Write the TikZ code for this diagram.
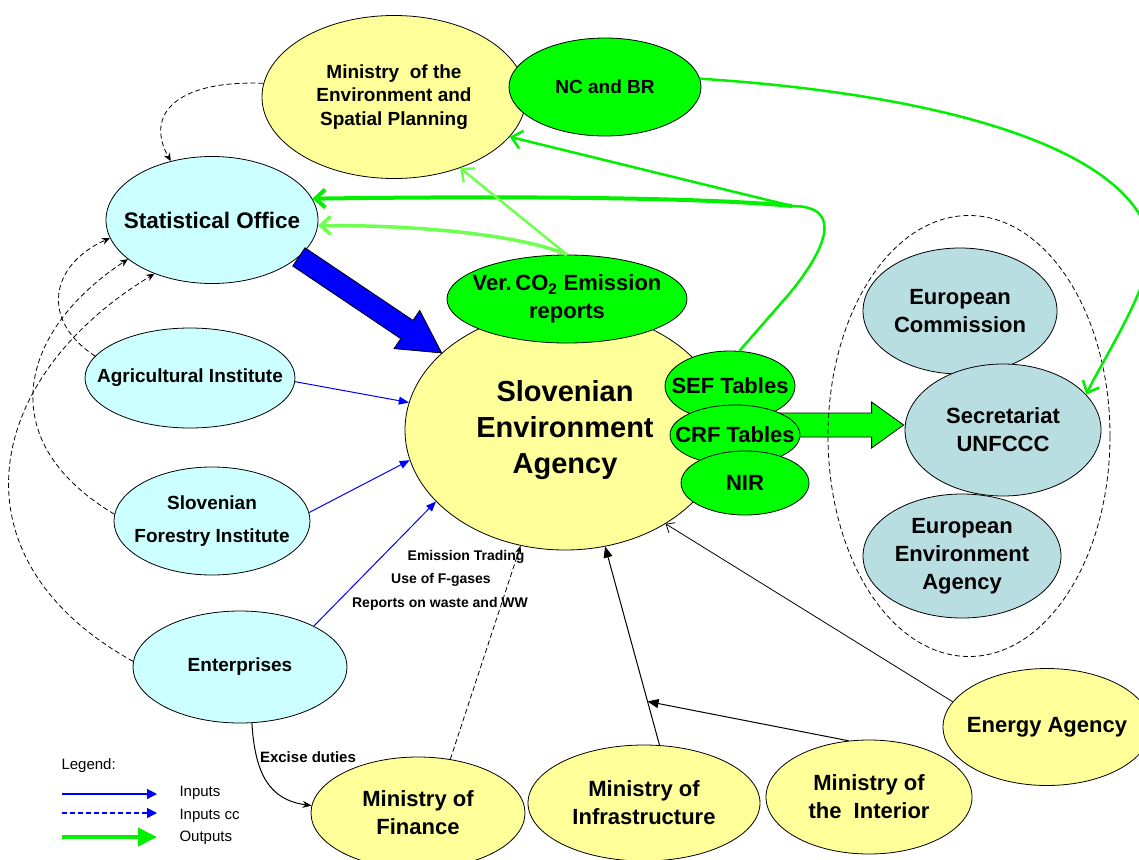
\documentclass[tikz,border=0pt]{standalone}
\usepackage{fontspec}
\setmainfont{Liberation Sans}
\usepackage{tikz}
\usetikzlibrary{shapes.geometric, arrows.meta, calc}
\pgfdeclarelayer{background}
\pgfsetlayers{background,main}
\definecolor{ministryyellow}{RGB}{255,255,153}
\definecolor{officecyan}{RGB}{204,255,255}
\definecolor{reportgreen}{RGB}{0,255,0}
\definecolor{eublue}{RGB}{185,222,226}
\definecolor{outgreen}{RGB}{0,240,0}
\definecolor{lightgreen}{RGB}{110,255,80}

\begin{document}
\begin{tikzpicture}[x=1pt, y=-1pt,
    blob/.style={ellipse, draw, line width=0.8pt, inner xsep=-20pt, inner ysep=-10pt, align=center},
    ministry/.style={blob, fill=ministryyellow},
    office/.style={blob, fill=officecyan},
    report/.style={blob, fill=reportgreen},
    eubody/.style={blob, fill=eublue},
    txtsmall/.style={font=\fontsize{19}{23.5}\selectfont\bfseries},
    txtbig/.style={font=\fontsize{22}{28}\selectfont\bfseries},
    lbl/.style={font=\fontsize{14}{17}\selectfont\bfseries},
    legendtxt/.style={font=\fontsize{15}{18}\selectfont, anchor=west},
    longdash/.style={dash pattern=on 5pt off 3pt},
    inarrow/.style={blue, line width=1pt, -{Triangle[length=10pt,width=8pt]}},
    ccarrow/.style={black, longdash, line width=0.8pt, -{Stealth[length=8pt,width=7pt]}},
    link/.style={black, line width=1pt, -{Triangle[length=11pt,width=9pt]}},
    outarrow/.style={outgreen, line width=2.5pt, -{Straight Barb[length=10pt,width=18pt]}},
    outlight/.style={lightgreen, line width=2.5pt, -{Straight Barb[length=10pt,width=18pt]}}
]
    \useasboundingbox (0,0) rectangle (1139,859);
    \clip (0,0) rectangle (1139,859);

    % left side
    \node[ministry, txtsmall, minimum width=264pt, minimum height=163pt] (mop) at (394,97) {Ministry\ \ of the\\Environment and\\Spatial Planning};
    \node[report, txtsmall, minimum width=192pt, minimum height=98pt] (ncbr) at (605,87) {NC and BR};
    \node[office, font=\fontsize{22.5}{27}\selectfont\bfseries, minimum width=212pt, minimum height=127pt] (stat) at (212,220) {Statistical Office};
    \node[office, txtsmall, minimum width=210pt, minimum height=100pt] (agr) at (190,378) {Agricultural Institute};
    \node[office, font=\fontsize{19}{33}\selectfont\bfseries, minimum width=196pt, minimum height=108pt] (forest) at (212,521) {Slovenian\\Forestry Institute};
    \node[office, txtsmall, minimum width=214pt, minimum height=112pt] (ent) at (240,667) {Enterprises};

    % agency and reports
    \node[ministry, font=\fontsize{29}{36}\selectfont\bfseries, minimum width=320pt, minimum height=240pt] (sea) at (565,430) {Slovenian\\Environment\\Agency};
    \node[report, txtbig, minimum width=240pt, minimum height=88pt] (co2) at (567,299) {Ver.\,CO\textsubscript{2} Emission\\reports};
    \node[report, txtbig, minimum width=130pt, minimum height=70pt] (sef) at (730,386) {SEF Tables};
    \node[report, txtbig, minimum width=130pt, minimum height=60pt] (crf) at (735,435) {CRF Tables};
    \node[report, txtbig, minimum width=128pt, minimum height=64pt] (nir) at (745,483) {NIR};

    % EU bodies
    \node[draw, longdash, ellipse, line width=0.8pt, minimum width=282pt, minimum height=441pt] (eu) at (969,436) {};
    \node[eubody, txtbig, minimum width=194pt, minimum height=126pt] (ec) at (960,311) {European\\Commission};
    \node[eubody, txtbig, minimum width=196pt, minimum height=132pt] (sec) at (1003,430) {Secretariat\\UNFCCC};
    \node[eubody, txtbig, minimum width=198pt, minimum height=124pt] (eea) at (962,556) {European\\Environment\\Agency};

    % bottom row
    \node[ministry, txtbig, minimum width=208pt, minimum height=117pt] (energy) at (1047,727) {Energy Agency};
    \node[ministry, txtbig, minimum width=206pt, minimum height=114pt] (interior) at (869,797) {Ministry of\\the\ \ Interior};
    \node[ministry, txtbig, minimum width=232pt, minimum height=116pt] (infra) at (644,803) {Ministry of\\Infrastructure};
    \node[ministry, txtbig, minimum width=214pt, minimum height=112pt] (finance) at (418,813) {Ministry of\\Finance};

    % labels
    \node[lbl] (trading) at (466,557) {Emission Trading};
    \node[lbl] (fgas) at (441,580) {Use of F-gases};
    \node[lbl] (waste) at (440,604) {Reports on waste and WW};
    \node[lbl, font=\fontsize{15}{18}\selectfont\bfseries] (excise) at (308,757) {Excise duties};

    % big arrows
    \coordinate (btail) at (stat.-23);
    \coordinate (btip) at (sea.148);
    \coordinate (bbase) at ($(btip)!42pt!(btail)$);
    \filldraw[fill=blue, draw=black, line width=0.8pt]
        ($(btail)!11pt!90:(btip)$) -- ($(bbase)!11pt!90:(btip)$) -- ($(bbase)!23pt!90:(btip)$) -- (btip)
        -- ($(bbase)!23pt!-90:(btip)$) -- ($(bbase)!11pt!-90:(btip)$) -- ($(btail)!11pt!-90:(btip)$) -- cycle;
    \begin{pgfonlayer}{background}
        \fill[white] (0,0) rectangle (1139,859);
        \coordinate (gtail) at ($(crf.center)+(25,-10)$);
        \coordinate (gtip) at ($(sec.west)+(-1,-5)$);
        \coordinate (gbase) at ($(gtip)!32pt!(gtail)$);
        \filldraw[fill=reportgreen, draw=black, line width=0.8pt]
            ($(gtail)!12pt!90:(gtip)$) -- ($(gbase)!12pt!90:(gtip)$) -- ($(gbase)!23pt!90:(gtip)$) -- (gtip)
            -- ($(gbase)!23pt!-90:(gtip)$) -- ($(gbase)!12pt!-90:(gtip)$) -- ($(gtail)!12pt!-90:(gtip)$) -- cycle;
    \end{pgfonlayer}

    % inputs
    \draw[inarrow] (agr.-2) -- (sea.170);
    \draw[inarrow] (forest.5) -- (sea.-169);
    \draw[inarrow] (ent.29) -- (sea.-151);

    % inputs cc
    \draw[ccarrow] (mop.174) .. controls (175,80) and (145,115) .. (stat.125);
    \draw[ccarrow] (agr.167) .. controls (40,320) and (50,265) .. (stat.-170);
    \draw[ccarrow] (forest.176) .. controls (-10,440) and (20,330) .. (stat.-155);
    \draw[ccarrow] (ent.177) .. controls (-50,560) and (-20,380) .. (stat.-137);

    % other ministries
    \draw[link] (infra.75) -- coordinate[pos=0.22] (infmid) (sea.-71);
    \draw[link] (interior.110) -- (infmid);
    \draw[black, line width=0.8pt, -{Straight Barb[length=7pt,width=12pt]}] (energy.165) -- (sea.-43);
    \draw[black, longdash, line width=0.8pt, -{Stealth[length=8pt,width=6pt]}] (finance.59) -- (sea.-111);
    \draw[black, line width=1pt, -{Stealth[length=9pt,width=7pt]}] (ent.-78) .. controls (255,775) and (270,800) .. (finance.176);

    % outputs
    \coordinate (nccurve) at (1150,240);
    \draw[outarrow] (ncbr.5) .. controls (950,95) and (1130,150) .. (nccurve) .. controls (1158,276) and (1100,364) .. (sec.23);
    \coordinate (sefbend) at (790,293);
    \coordinate (sefloop) at (792,206);
    \draw[outgreen, line width=2.5pt] (sef.75) -- (sefbend) .. controls (825,250) and (845,206) .. (sefloop);
    \draw[outarrow, line width=4pt] (sefloop) .. controls (700,197) and (500,196) .. (stat.12);
    \draw[outarrow] (sefloop) -- (mop.-19);
    \draw[outlight, line width=3.5pt] (co2.north) .. controls (520,235) and (420,225) .. (stat.-3);
    \draw[outlight] (co2.north) -- (mop.-47);

    % legend
    \node[legendtxt] (legend) at (58,766) {Legend:};
    \coordinate (ina) at (62,794);
    \coordinate (inb) at (157,794);
    \coordinate (cca) at (62,813);
    \coordinate (ccb) at (157,813);
    \coordinate (outa) at (62,837);
    \coordinate (outb) at (157,837);
    \draw[blue, line width=1.2pt, -{Triangle[length=10pt,width=10pt]}] (ina) -- (inb);
    \draw[blue, longdash, line width=1.2pt, -{Triangle[length=10pt,width=10pt]}] (cca) -- (ccb);
    \draw[outgreen, line width=4pt, -{Triangle[length=19pt,width=18pt]}] (outa) -- (outb);
    \node[legendtxt] (intxt) at (176,793) {Inputs};
    \node[legendtxt] (cctxt) at (176,816) {Inputs cc};
    \node[legendtxt] (outtxt) at (176,838) {Outputs};
\end{tikzpicture}
\end{document}
